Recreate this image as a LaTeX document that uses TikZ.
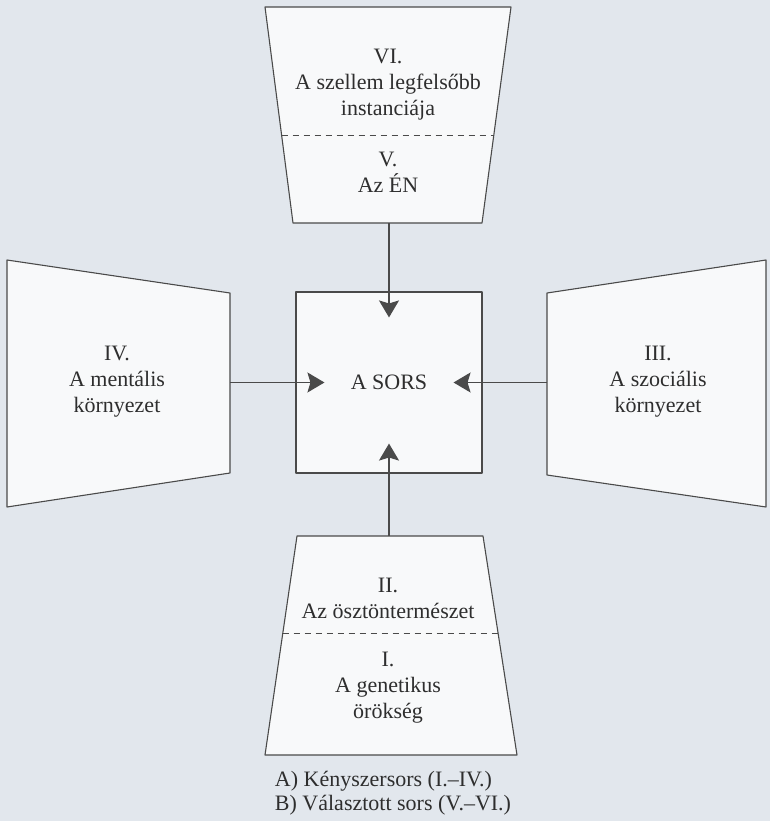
\documentclass[tikz,border=0pt]{standalone}
\usepackage{fontspec}
\setmainfont{Liberation Serif}
\usetikzlibrary{arrows.meta,calc}
\definecolor{paper}{HTML}{E2E7ED}
\definecolor{boxfill}{HTML}{F8F9FA}
\definecolor{ink}{HTML}{4A4A4A}
\definecolor{txt}{HTML}{2E2E2E}

\begin{document}
\begin{tikzpicture}[x=1pt, y=-1pt,
    frame/.style={draw=ink, fill=boxfill, line width=1.1pt, line join=round},
    lbl/.style={text=txt, align=center, inner sep=0pt,
                font=\fontsize{22}{26}\selectfont},
    sep/.style={draw=ink, dash pattern=on 6pt off 5pt, line width=0.9pt},
    arr/.style={-{Stealth[length=17pt, width=20pt, inset=3pt]}, draw=ink, line width=1.5pt}
  ]
    \fill[paper] (0,0) rectangle (770,821);
    \useasboundingbox (0,0) rectangle (770,821);

    % upper block (V.-VI.)
    \coordinate (tTL) at (265,7);
    \coordinate (tTR) at (511,7);
    \coordinate (tBR) at (482,223);
    \coordinate (tBL) at (293,223);
    \draw[frame] (tTL) -- (tTR) -- (tBR) -- (tBL) -- cycle;
    \draw[sep] ($(tTL)!0.593!(tBL)$) -- ($(tTR)!0.593!(tBR)$);
    \node[lbl] (spirit) at (388,85) {VI.\\A szellem legfelsőbb\\instanciája};
    \node[lbl] (self)   at (388,172) {V.\\Az ÉN};

    % lower block (I.-II.)
    \coordinate (bTL) at (297,536);
    \coordinate (bTR) at (483,536);
    \coordinate (bBR) at (517,755);
    \coordinate (bBL) at (265,755);
    \draw[frame] (bTL) -- (bTR) -- (bBR) -- (bBL) -- cycle;
    \draw[sep] ($(bTL)!0.447!(bBL)$) -- ($(bTR)!0.447!(bBR)$);
    \node[lbl] (instinct) at (388,598) {II.\\Az ösztöntermészet};
    \node[lbl] (genetic)  at (388,688) {I.\\A genetikus\\örökség};

    % left block (IV.)
    \draw[frame] (7,260) -- (230,293) -- (230,473) -- (7,507) -- cycle;
    \node[lbl] (mental) at (117,382) {IV.\\A mentális\\környezet};

    % right block (III.)
    \draw[frame] (547,293) -- (766,260) -- (766,507) -- (547,475) -- cycle;
    \node[lbl] (social) at (658,382) {III.\\A szociális\\környezet};

    % centre
    \node[frame, lbl, minimum width=186pt, minimum height=181pt] (sors) at (389,382.5) {A SORS};

    \coordinate (upOut)    at (389,223);
    \coordinate (downOut)  at (389,536);
    \coordinate (leftOut)  at (230,382.5);
    \coordinate (rightOut) at (547,382.5);
    \coordinate (sorsN) at ($(sors.north)+(0,26)$);
    \coordinate (sorsS) at ($(sors.south)+(0,-30)$);
    \coordinate (sorsW) at ($(sors.west)+(29,0)$);
    \coordinate (sorsE) at ($(sors.east)+(-29,0)$);

    \draw[arr] (upOut)    -- (sorsN);
    \draw[arr] (downOut)  -- (sorsS);
    \draw[arr] (leftOut)  -- (sorsW);
    \draw[arr] (rightOut) -- (sorsE);

    \node[lbl, align=left, font=\fontsize{22}{23.5}\selectfont] (legend) at (393,793)
      {A) Kényszersors (I.–IV.)\\B) Választott sors (V.–VI.)};
  \end{tikzpicture}
\end{document}
